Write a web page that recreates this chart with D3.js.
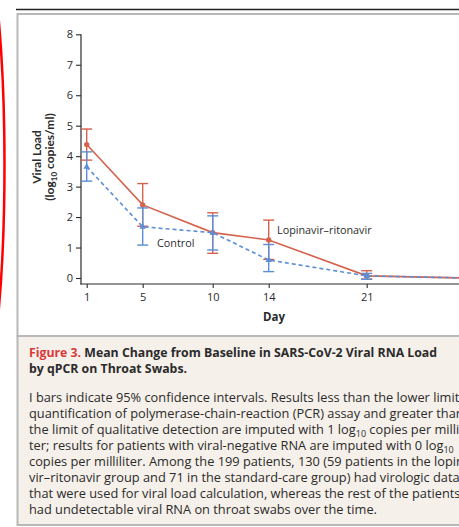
<!DOCTYPE html>
<html>
<head>
<meta charset="utf-8">
<script src="https://cdn.jsdelivr.net/npm/d3@7"></script>
<style>
  html, body { margin: 0; padding: 0; background: #fff; }
  svg { display: block; font-family: "Open Sans", Lato, sans-serif; }
</style>
</head>
<body>
<svg id="chart" width="459" height="527"></svg>
<script>
// values (log10 copies/ml)
const days = [1, 5, 10, 14, 21, 28];
const dayTicks = [1, 5, 10, 14, 21];
const loadTicks = [0, 1, 2, 3, 4, 5, 6, 7, 8];

const lopinavirMean = [4.38, 2.40, 1.49, 1.25, 0.07, 0.0];
const lopinavirLow = [3.87, 1.70, 0.81, 0.61, -0.04, -0.05];
const lopinavirHigh = [4.89, 3.10, 2.14, 1.90, 0.24, 0.05];

const controlMean = [3.65, 1.68, 1.49, 0.59, 0.07, 0.0];
const controlLow = [3.18, 1.08, 0.92, 0.21, -0.04, -0.05];
const controlHigh = [4.14, 2.30, 2.04, 1.10, 0.15, 0.05];

const captionLines = [
  ["I bars indicate 95% confidence intervals. Results less than the lower limit of"],
  ["quantification of polymerase-chain-reaction (PCR) assay and greater than"],
  ["the limit of qualitative detection are imputed with 1 log", "10", " copies per millili-"],
  ["ter; results for patients with viral-negative RNA are imputed with 0 log", "10", ""],
  ["copies per milliliter. Among the 199 patients, 130 (59 patients in the lopina-"],
  ["vir\u2013ritonavir group and 71 in the standard-care group) had virologic data"],
  ["that were used for viral load calculation, whereas the rest of the patients"],
  ["had undetectable viral RNA on throat swabs over the time."]
];

const red = "#d4624c";
const blue = "#5b8ed6";
const ink = "#2b2b2b";

const svg = d3.select("#chart");

// red hand-drawn mark at the left edge
svg.append("ellipse")
  .attr("cx", -40).attr("cy", 165)
  .attr("rx", 44.5).attr("ry", 292)
  .attr("fill", "none")
  .attr("stroke", "#ff0000")
  .attr("stroke-width", 2.5);

// frame of the figure panel and the caption box
svg.append("line")
  .attr("x1", 16).attr("x2", 470)
  .attr("y1", 9.5).attr("y2", 9.5)
  .attr("stroke", "#222").attr("stroke-width", 1.5);
svg.append("rect")
  .attr("x", 17.5).attr("y", 14)
  .attr("width", 460).attr("height", 322)
  .attr("fill", "#fff")
  .attr("stroke", "#b8b8b8").attr("stroke-width", 2);
svg.append("rect")
  .attr("x", 17.5).attr("y", 336)
  .attr("width", 460).attr("height", 189)
  .attr("fill", "#f5f0e9")
  .attr("stroke", "#b8b8b8").attr("stroke-width", 2);

const x = d3.scaleLinear().domain([1, 28]).range([86.7, 464.7]);
const y = d3.scaleLinear().domain([0, 8]).range([278, 34.3]);

// axes
const yAxis = svg.append("g")
  .attr("transform", "translate(81,0)")
  .call(d3.axisLeft(y).tickValues(loadTicks).tickSize(5).tickPadding(3).tickSizeOuter(0));
yAxis.select(".domain").remove();
svg.append("line")
  .attr("x1", 81).attr("x2", 81)
  .attr("y1", y(8)).attr("y2", 284.5)
  .attr("stroke", ink).attr("stroke-width", 1.2);

const xAxis = svg.append("g")
  .attr("transform", "translate(0,284)")
  .call(d3.axisBottom(x).tickValues(dayTicks).tickSize(4).tickPadding(5).tickSizeOuter(0));
xAxis.select(".domain").remove();
svg.append("line")
  .attr("x1", 80.4).attr("x2", 470)
  .attr("y1", 284).attr("y2", 284)
  .attr("stroke", ink).attr("stroke-width", 1.2);

svg.selectAll(".tick line").attr("stroke", ink).attr("stroke-width", 1.1);
svg.selectAll(".tick text")
  .attr("fill", ink)
  .style("font-family", "'Open Sans', sans-serif")
  .style("font-size", "11px");

// axis titles
const yTitle = svg.append("text")
  .attr("transform", "translate(41,157) rotate(-90)")
  .attr("text-anchor", "middle")
  .attr("fill", ink)
  .style("font-family", "Lato, sans-serif")
  .style("font-weight", "bold")
  .style("font-size", "12px");
yTitle.append("tspan").attr("x", 0).attr("y", 0).text("Viral Load");
const yTitle2 = svg.append("text")
  .attr("transform", "translate(54,157) rotate(-90)")
  .attr("text-anchor", "middle")
  .attr("fill", ink)
  .style("font-family", "Lato, sans-serif")
  .style("font-weight", "bold")
  .style("font-size", "12px");
yTitle2.append("tspan").text("(log");
yTitle2.append("tspan").attr("dy", 3).style("font-size", "8px").text("10");
yTitle2.append("tspan").attr("dy", -3).text(" copies/ml)");

svg.append("text")
  .attr("x", 274).attr("y", 321)
  .attr("text-anchor", "middle")
  .attr("fill", ink)
  .style("font-weight", "bold")
  .style("font-size", "11.5px")
  .text("Day");

// series
const series = [
  { name: "lopinavir", color: red, dash: null, mean: lopinavirMean, low: lopinavirLow, high: lopinavirHigh, marker: d3.symbolCircle, size: 22 },
  { name: "control", color: blue, dash: "4,3", mean: controlMean, low: controlLow, high: controlHigh, marker: d3.symbolTriangle, size: 18 }
];

const line = d3.line().x(d => x(d.day)).y(d => y(d.v));

series.forEach(s => {
  const pts = days.map((day, i) => ({ day, v: s.mean[i], lo: s.low[i], hi: s.high[i] }));
  const g = svg.append("g").attr("class", s.name);

  g.append("path")
    .datum(pts)
    .attr("d", line)
    .attr("fill", "none")
    .attr("stroke", s.color)
    .attr("stroke-width", 1.6)
    .attr("stroke-dasharray", s.dash);

  const bars = g.selectAll(".err").data(pts).join("g").attr("class", "err")
    .attr("stroke", s.color).attr("stroke-width", 1.4);
  bars.append("line")
    .attr("x1", d => x(d.day)).attr("x2", d => x(d.day))
    .attr("y1", d => y(d.lo)).attr("y2", d => y(d.hi));
  bars.append("line")
    .attr("x1", d => x(d.day) - 5.5).attr("x2", d => x(d.day) + 5.5)
    .attr("y1", d => y(d.hi)).attr("y2", d => y(d.hi));
  bars.append("line")
    .attr("x1", d => x(d.day) - 5.5).attr("x2", d => x(d.day) + 5.5)
    .attr("y1", d => y(d.lo)).attr("y2", d => y(d.lo));

  g.selectAll(".mk").data(pts).join("path").attr("class", "mk")
    .attr("transform", d => `translate(${x(d.day)},${y(d.v)})`)
    .attr("d", d3.symbol(s.marker, s.size))
    .attr("fill", s.color);
});

// direct labels
svg.append("text")
  .attr("x", 157).attr("y", 246.5)
  .attr("fill", ink)
  .style("font-size", "10.8px")
  .text("Control");
svg.append("text")
  .attr("x", 277).attr("y", 233.5)
  .attr("fill", ink)
  .style("font-size", "10.8px")
  .text("Lopinavir\u2013ritonavir");

// caption
const title = svg.append("text")
  .attr("x", 29).attr("y", 356.5)
  .attr("fill", ink)
  .style("font-weight", "bold")
  .style("font-size", "12.3px");
title.append("tspan").attr("fill", "#d93a3a").text("Figure 3.");
title.append("tspan").text(" Mean Change from Baseline in SARS-CoV-2 Viral RNA Load");
svg.append("text")
  .attr("x", 29).attr("y", 373.3)
  .attr("fill", ink)
  .style("font-weight", "bold")
  .style("font-size", "12.3px")
  .text("by qPCR on Throat Swabs.");

svg.selectAll(".cap").data(captionLines).join("text").attr("class", "cap")
  .attr("x", 29)
  .attr("y", (d, i) => 401.7 + i * 16)
  .attr("fill", ink)
  .style("font-size", "12.8px")
  .each(function (parts) {
    const t = d3.select(this);
    parts.forEach((p, j) => {
      if (j === 1) {
        t.append("tspan").attr("dy", 3).style("font-size", "9px").text(p);
      } else if (j === 2) {
        t.append("tspan").attr("dy", -3).text(p);
      } else {
        t.append("tspan").text(p);
      }
    });
  });
</script>
</body>
</html>
